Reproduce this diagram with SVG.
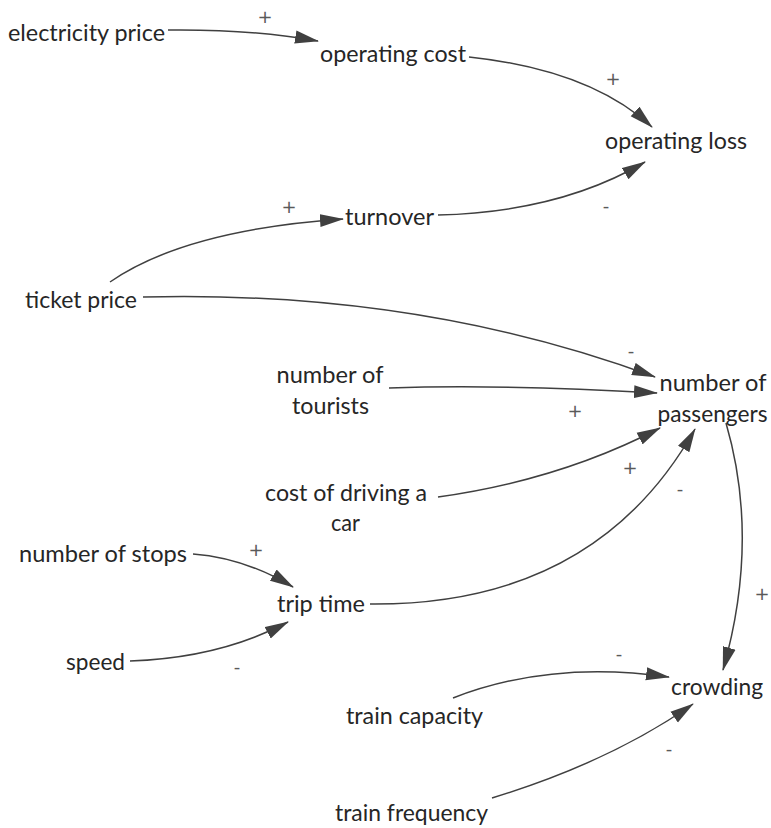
<svg xmlns="http://www.w3.org/2000/svg" width="771" height="828" viewBox="0 0 771 828">
<defs>
<marker id="arr" markerUnits="userSpaceOnUse" markerWidth="24" markerHeight="14" refX="23" refY="7" orient="auto" viewBox="0 0 24 14">
<path d="M0,0.5 L24,7 L0,13.5 Z" fill="#404040"/>
</marker>
<style>
.n{font-family:Lato,"Liberation Sans",sans-serif;font-size:24px;fill:#262626;text-anchor:middle}
.s{font-family:"DejaVu Sans","Liberation Sans",sans-serif;font-size:18px;font-weight:normal;fill:#5a5a5a;text-anchor:middle;dominant-baseline:central}
.c{fill:none;stroke:#404040;stroke-width:1.5;marker-end:url(#arr)}
</style>
</defs>
<rect width="771" height="828" fill="#ffffff"/>
<g id="connectors">
<path class="c" d="M168,30 Q250,29 318,41"/>
<path class="c" d="M469,57 Q590,70 652,127"/>
<path class="c" d="M438,215 Q560,212 645,162"/>
<path class="c" d="M110,282 Q185,230 343,219"/>
<path class="c" d="M143,297 Q420,290 655,377"/>
<path class="c" d="M389,388 Q500,384 657,393"/>
<path class="c" d="M438,497 Q560,480 660,428"/>
<path class="c" d="M370,604 Q595,606 695,429"/>
<path class="c" d="M726,423 Q760,540 723,670"/>
<path class="c" d="M193,554 Q245,558 293,587"/>
<path class="c" d="M130,661 Q220,658 288,622"/>
<path class="c" d="M453,698 Q550,660 669,677"/>
<path class="c" d="M492,798 Q610,762 693,704"/>
</g>
<g id="signs">
<text class="s" x="265" y="16">+</text>
<text class="s" x="613" y="78">+</text>
<text class="s" x="289" y="206">+</text>
<text class="s" x="575" y="410">+</text>
<text class="s" x="630" y="467">+</text>
<text class="s" x="256" y="549">+</text>
<text class="s" x="762" y="593">+</text>
<text class="s" x="606" y="205">-</text>
<text class="s" x="631" y="350">-</text>
<text class="s" x="680" y="488">-</text>
<text class="s" x="237" y="666">-</text>
<text class="s" x="619" y="653">-</text>
<text class="s" x="669" y="748">-</text>
</g>
<g id="electricity-price"><text class="n" x="86.5" y="41" textLength="157" lengthAdjust="spacingAndGlyphs">electricity price</text></g>
<g id="operating-cost"><text class="n" x="393" y="62" textLength="146" lengthAdjust="spacingAndGlyphs">operating cost</text></g>
<g id="operating-loss"><text class="n" x="676" y="149" textLength="142" lengthAdjust="spacingAndGlyphs">operating loss</text></g>
<g id="turnover"><text class="n" x="389.5" y="225" textLength="89" lengthAdjust="spacingAndGlyphs">turnover</text></g>
<g id="ticket-price"><text class="n" x="81" y="308" textLength="112" lengthAdjust="spacingAndGlyphs">ticket price</text></g>
<g id="number-of-tourists"><text class="n" x="330" y="383" textLength="107" lengthAdjust="spacingAndGlyphs">number of</text><text class="n" x="330.5" y="414" textLength="77" lengthAdjust="spacingAndGlyphs">tourists</text></g>
<g id="number-of-passengers"><text class="n" x="713" y="391" textLength="107" lengthAdjust="spacingAndGlyphs">number of</text><text class="n" x="712.5" y="422" textLength="110" lengthAdjust="spacingAndGlyphs">passengers</text></g>
<g id="cost-of-driving-a-car"><text class="n" x="346" y="501" textLength="162" lengthAdjust="spacingAndGlyphs">cost of driving a</text><text class="n" x="345.5" y="531" textLength="29" lengthAdjust="spacingAndGlyphs">car</text></g>
<g id="number-of-stops"><text class="n" x="103" y="562" textLength="168" lengthAdjust="spacingAndGlyphs">number of stops</text></g>
<g id="trip-time"><text class="n" x="321" y="612" textLength="88" lengthAdjust="spacingAndGlyphs">trip time</text></g>
<g id="speed"><text class="n" x="95.5" y="670" textLength="59" lengthAdjust="spacingAndGlyphs">speed</text></g>
<g id="train-capacity"><text class="n" x="414.5" y="724" textLength="137" lengthAdjust="spacingAndGlyphs">train capacity</text></g>
<g id="crowding"><text class="n" x="717" y="695" textLength="92" lengthAdjust="spacingAndGlyphs">crowding</text></g>
<g id="train-frequency"><text class="n" x="411.5" y="821" textLength="153" lengthAdjust="spacingAndGlyphs">train frequency</text></g>
</svg>
